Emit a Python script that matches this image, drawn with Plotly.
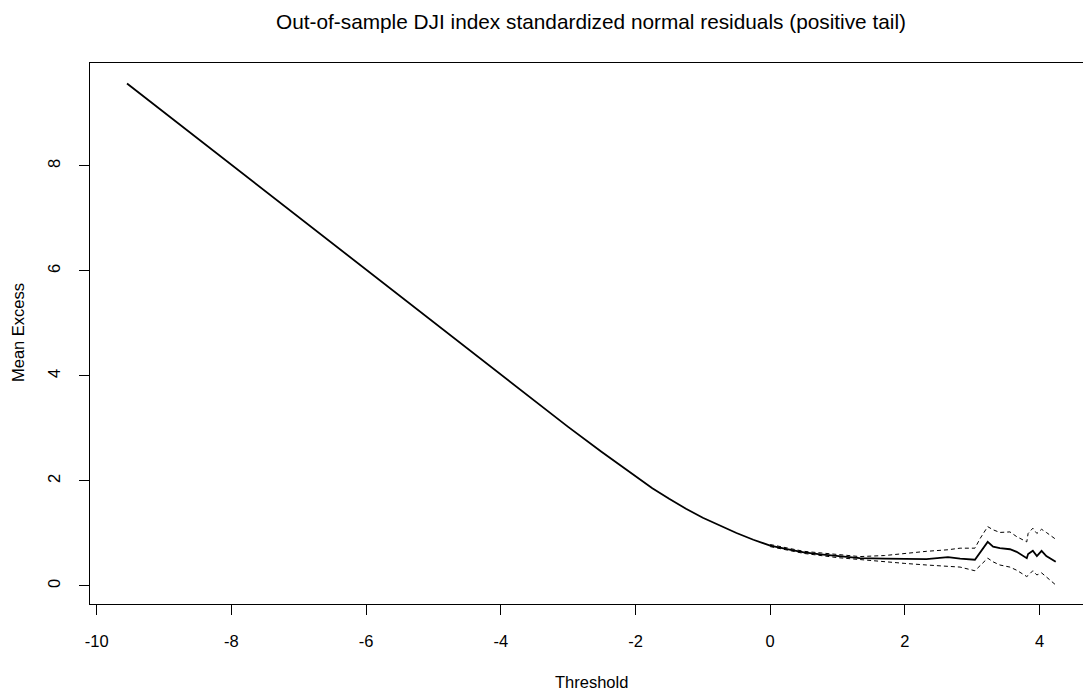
import plotly.graph_objects as go

# Thresholds and mean excess values
threshold = [-9.55, -9.0, -8.0, -7.0, -6.0, -5.0, -4.0, -3.5, -3.0, -2.5, -2.0,
             -1.75, -1.5, -1.25, -1.0, -0.75, -0.5, -0.25, 0.0, 0.25, 0.5, 0.75,
             1.0, 1.33, 1.7, 2.0, 2.32, 2.64, 2.82,
             3.04, 3.12, 3.23, 3.31, 3.41, 3.56, 3.66, 3.81, 3.83, 3.90, 3.96,
             4.03, 4.10, 4.24]
mean_excess = [9.57, 9.02, 8.02, 7.02, 6.02, 5.02, 4.02, 3.52, 3.03, 2.55, 2.08,
               1.86, 1.66, 1.47, 1.30, 1.15, 1.01, 0.88, 0.77, 0.70, 0.64, 0.60,
               0.57, 0.53, 0.52, 0.52, 0.51, 0.55, 0.52,
               0.50, 0.65, 0.84, 0.75, 0.72, 0.70, 0.65, 0.53, 0.61, 0.67, 0.57,
               0.67, 0.57, 0.46]

# Confidence band (dashed)
ci_threshold = [0.0, 0.5, 1.0, 1.33, 1.7, 2.0, 2.32, 2.64, 2.82, 3.04, 3.12, 3.23,
                3.31, 3.41, 3.56, 3.66, 3.81, 3.83, 3.90, 3.96, 4.03, 4.10, 4.24]
ci_upper = [0.79, 0.66, 0.60, 0.56, 0.58, 0.62, 0.66, 0.69, 0.72, 0.72, 0.91, 1.13,
            1.07, 1.02, 1.03, 0.94, 0.84, 1.00, 1.10, 1.00, 1.08, 1.02, 0.89]
ci_lower = [0.75, 0.62, 0.54, 0.50, 0.46, 0.43, 0.40, 0.38, 0.36, 0.29, 0.40, 0.53,
            0.46, 0.40, 0.36, 0.30, 0.18, 0.20, 0.29, 0.21, 0.25, 0.17, 0.02]

x_ticks = [-10, -8, -6, -4, -2, 0, 2, 4]
y_ticks = [0, 2, 4, 6, 8]

FONT = "Liberation Sans, Arial, sans-serif"

fig = go.Figure()
fig.add_trace(go.Scatter(x=ci_threshold, y=ci_upper, mode="lines",
                         line=dict(color="black", width=1, dash="4px,3px"),
                         showlegend=False, hoverinfo="skip"))
fig.add_trace(go.Scatter(x=ci_threshold, y=ci_lower, mode="lines",
                         line=dict(color="black", width=1, dash="4px,3px"),
                         showlegend=False, hoverinfo="skip"))
fig.add_trace(go.Scatter(x=threshold, y=mean_excess, mode="lines",
                         line=dict(color="black", width=1.8),
                         showlegend=False))

fig.update_layout(
    width=1083, height=690,
    margin=dict(l=90, r=0, t=63, b=86),
    paper_bgcolor="white", plot_bgcolor="white",
    font=dict(family=FONT, size=16.5, color="black"),
    title=dict(text="Out-of-sample DJI index standardized normal residuals (positive tail)",
               x=591 / 1083, xref="container", xanchor="center",
               y=1 - 22 / 690, yref="container", yanchor="middle",
               font=dict(family=FONT, size=20.8, color="black")),
    xaxis=dict(range=[-10.0995, 4.645], tickvals=x_ticks, ticktext=[str(v) for v in x_ticks],
               showgrid=False, zeroline=False, showline=True, mirror=True,
               linecolor="black", linewidth=1, ticks="outside", ticklen=10,
               tickcolor="black", tickwidth=1, ticklabelstandoff=12,
               tickfont=dict(family=FONT, size=16.5, color="black")),
    yaxis=dict(range=[-0.343, 9.96], tickvals=y_ticks, ticktext=[str(v) for v in y_ticks],
               showgrid=False, zeroline=False, showline=True, mirror=False,
               linecolor="black", linewidth=1, ticks="outside", ticklen=10,
               tickcolor="black", tickwidth=1, tickangle=-90, ticklabelstandoff=12,
               tickfont=dict(family=FONT, size=16.5, color="black")),
    annotations=[
        dict(text="Threshold", xref="paper", yref="paper", x=(591 - 90) / 993, y=0,
             yshift=-78, xanchor="center", yanchor="middle", showarrow=False,
             font=dict(family=FONT, size=16.5, color="black")),
        dict(text="Mean Excess", xref="paper", yref="paper", x=0, y=(604 - 333) / 541,
             xshift=-72, xanchor="center", yanchor="middle", textangle=-90, showarrow=False,
             font=dict(family=FONT, size=16.5, color="black")),
    ],
)

fig.write_html("out.html")
